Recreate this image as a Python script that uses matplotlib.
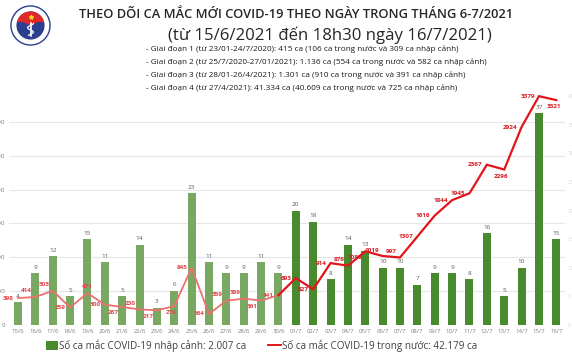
import matplotlib
matplotlib.use("Agg")
import matplotlib.pyplot as plt
import numpy as np
from matplotlib.patches import Circle, Wedge, Rectangle

dates = ["15/6", "16/6", "17/6", "18/6", "19/6", "20/6", "21/6", "22/6", "23/6", "24/6",
         "25/6", "26/6", "27/6", "28/6", "29/6", "30/6", "01/7", "02/7", "03/7", "04/7",
         "05/7", "06/7", "07/7", "08/7", "09/7", "10/7", "11/7", "12/7", "13/7", "14/7",
         "15/7", "16/7"]
imported = [4, 9, 12, 5, 15, 11, 5, 14, 3, 6, 23, 11, 9, 9, 11, 9,
            20, 18, 8, 14, 13, 10, 10, 7, 9, 9, 8, 16, 5, 10, 37, 15]
domestic = [398, 414, 505, 259, 471, 300, 267, 230, 217, 279, 845, 164, 359, 389, 361, 441,
            693, 527, 914, 876, 1089, 1019, 997, 1307, 1616, 1844, 1945, 2367, 2296, 2924,
            3379, 3321]
left_ticks = [0, 500, 1000, 1500, 2000, 2500, 3000]
right_ticks = [0, 5, 10, 15, 20, 25, 30, 35, 40]

title1 = "THEO DÕI CA MẮC MỚI COVID-19 THEO NGÀY TRONG THÁNG 6-7/2021"
title2 = "(từ 15/6/2021 đến 18h30 ngày 16/7/2021)"
notes = [
    "- Giai đoạn 1 (từ 23/01-24/7/2020): 415 ca (106 ca trong nước và 309 ca nhập cảnh)",
    "- Giai đoạn 2 (từ 25/7/2020-27/01/2021): 1.136 ca (554 ca trong nước và 582 ca nhập cảnh)",
    "- Giai đoạn 3 (từ 28/01-26/4/2021): 1.301 ca (910 ca trong nước và 391 ca nhập cảnh)",
    "- Giai đoạn 4 (từ 27/4/2021): 41.334 ca (40.609 ca trong nước và 725 ca nhập cảnh)",
]
legend_bar = "Số ca mắc COVID-19 nhập cảnh: 2.007 ca"
legend_line = "Số ca mắc COVID-19 trong nước: 42.179 ca"

# label placement for line values (style only)
pos = ["L", "AL", "AL", "L", "A", "L", "BL", "AL", "BL", "B", "L", "L", "AL", "AL", "BL", "L",
       "L", "L", "L", "AL", "BL", "AL", "AL", "L", "L", "L", "L", "L", "B", "L", "L", "B"]

W, H = 572, 358
fig = plt.figure(figsize=(W / 100, H / 100), dpi=100)
fig.patch.set_facecolor("white")
FONT = ["Open Sans", "DejaVu Sans"]

x0, x1, yb, yt = 9.3, 565.0, 325.0, 88.0
rect = [x0 / W, (H - yb) / H, (x1 - x0) / W, (yb - yt) / H]

ax = fig.add_axes(rect)
ax.set_ylim(0, 3500)
ax.set_xlim(-0.5, len(dates) - 0.5)
for v in left_ticks:
    ax.axhline(v, color="#e6e6e6", lw=0.8, zorder=0)
ax.set_yticks(left_ticks)
ax.set_yticklabels([str(v) for v in left_ticks], fontsize=4.5, color="#7f7f7f", family=FONT)
ax.tick_params(axis="y", length=0, pad=3)
ax.set_xticks(range(len(dates)))
ax.set_xticklabels(dates, fontsize=4.3, color="#7f7f7f", family=FONT)
ax.tick_params(axis="x", length=0, pad=3)
for s in ax.spines.values():
    s.set_visible(False)

axb = ax.twinx()
axb.set_ylim(0, 41.4)
axb.set_xlim(-0.5, len(dates) - 0.5)
xs = np.arange(len(dates))
cols = ["#78a862" if i < 16 else "#4a8a2e" for i in range(len(dates))]
axb.bar(xs, imported, width=0.46, color=cols, zorder=2)
for i, v in enumerate(imported):
    axb.annotate(str(v), (xs[i], v), xytext=(0, 2.5), textcoords="offset points",
                 ha="center", va="bottom", fontsize=4.6, color="#595959", family=FONT)
axb.set_yticks(right_ticks)
axb.set_yticklabels([str(v) for v in right_ticks], fontsize=4.3, color="#dcdcdc", family=FONT)
axb.tick_params(axis="y", length=0, pad=2)
for s in axb.spines.values():
    s.set_visible(False)

axl = ax.twinx()
axl.set_ylim(0, 3500)
axl.set_xlim(-0.5, len(dates) - 0.5)
axl.set_yticks([])
for s in axl.spines.values():
    s.set_visible(False)
axl.plot(xs[:16], domestic[:16], color="#ec7070", lw=1.3, zorder=3, solid_joinstyle="miter")
axl.plot(xs[15:], domestic[15:], color="#e3141c", lw=1.6, zorder=3, solid_joinstyle="miter")
offs = {"L": (-3, 0, "right", "center"), "A": (0, 3, "center", "bottom"),
        "B": (-2, -3, "center", "top"), "AL": (-2.5, 2.5, "right", "bottom"),
        "BL": (-2.5, -2.5, "right", "top")}
for i, v in enumerate(domestic):
    dx, dy, ha, va = offs[pos[i]]
    axl.annotate(str(v), (xs[i], v), xytext=(dx, dy), textcoords="offset points",
                 ha=ha, va=va, fontsize=4.6, fontweight="bold",
                 color="#e5454b" if i < 16 else "#d91a22", family=FONT)

# titles
fig.text(296 / W, 1 - 15 / H, title1, ha="center", va="center", fontsize=9.3,
         fontweight="semibold", color="#262626", family=FONT)
fig.text(330 / W, 1 - 35.5 / H, title2, ha="center", va="center", fontsize=12.1,
         color="#262626", family=FONT)
for k, t in enumerate(notes):
    fig.text(146 / W, 1 - (49 + 13 * k) / H, t, ha="left", va="center", fontsize=5.9,
             color="#1a1a1a", family=FONT)

# bottom legend
fig.patches.append(Rectangle((46 / W, 1 - 350 / H), 12 / W, 9 / H, transform=fig.transFigure,
                             facecolor="#4a8a2e", edgecolor="none"))
fig.text(59 / W, 1 - 345.5 / H, legend_bar, ha="left", va="center", fontsize=7.08,
         color="#404040", family=FONT)
fig.lines.append(plt.Line2D([268 / W, 281 / W], [1 - 345 / H, 1 - 345 / H],
                            transform=fig.transFigure, color="#e3141c", lw=1.4))
fig.text(282 / W, 1 - 345.5 / H, legend_line, ha="left", va="center", fontsize=7.1,
         color="#404040", family=FONT)

# logo
axg = fig.add_axes([9 / W, 1 - 47 / H, 43 / W, 43 / H])
axg.set_xlim(-1.1, 1.1)
axg.set_ylim(-1.1, 1.1)
axg.set_aspect("equal")
axg.axis("off")
axg.add_patch(Circle((0, 0), 1.0, facecolor="white", edgecolor="#2b3e8f", lw=1.0))
axg.add_patch(Circle((0, 0), 0.72, facecolor="#2b3e8f", edgecolor="none"))
axg.add_patch(Wedge((0, 0), 0.72, 25, 155, facecolor="#e02828", edgecolor="none"))
axg.add_patch(Rectangle((-0.66, 0.2), 1.32, 0.12, facecolor="#e02828", edgecolor="none"))
axg.plot([0, 0], [-0.55, 0.15], color="white", lw=1.2)
tt = np.linspace(-0.5, 0.1, 40)
axg.plot(0.15 * np.sin(tt * 14), tt, color="white", lw=0.9)
axg.plot([0], [0.45], marker="*", color="#f5d020", ms=3)

fig.savefig("out.png", dpi=100, facecolor="white")
